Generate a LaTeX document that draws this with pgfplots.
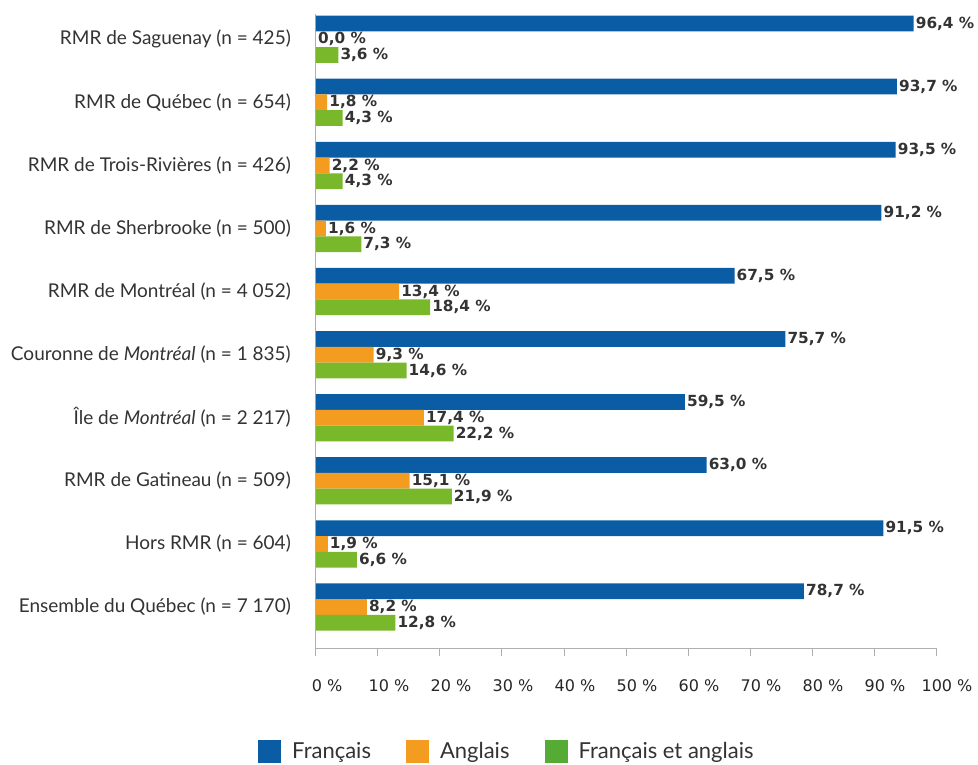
\documentclass[border=0pt]{standalone}
\usepackage{pgfplots}
\pgfplotsset{compat=1.18}
\usepackage{fontspec}
\setmainfont{Lato}
\newfontfamily\lblfont{DejaVu Sans}
\definecolor{cblue}{HTML}{0A5CA5}
\definecolor{corange}{HTML}{F39C1F}
\definecolor{cgreen}{HTML}{78B82A}
\definecolor{lgreen}{HTML}{55AB33}
\definecolor{axisgray}{HTML}{AFAFAF}
\definecolor{txt}{HTML}{333333}
\pgfplotstableread{
i fr en bi
0 96.4 0.0 3.6
1 93.7 1.8 4.3
2 93.5 2.2 4.3
3 91.2 1.6 7.3
4 67.5 13.4 18.4
5 75.7 9.3 14.6
6 59.5 17.4 22.2
7 63.0 15.1 21.9
8 91.5 1.9 6.6
9 78.7 8.2 12.8
}\datatable
\begin{document}
\begin{tikzpicture}[x=1pt,y=1pt]
\useasboundingbox (0,0) rectangle (978,764);
\begin{axis}[at={(316pt,116pt)}, anchor=south west, scale only axis,
 width=620pt, height=634pt,
 xmin=0, xmax=100, ymin=-0.40, ymax=9.65, y dir=reverse,
 xbar, bar width=0.25,
 axis x line*=bottom, axis y line*=left,
 axis line style={axisgray, line width=1pt, -},
 xtick={0,10,...,100}, xticklabels={0 \%,10 \%,20 \%,30 \%,40 \%,50 \%,60 \%,70 \%,80 \%,90 \%,100 \%},
 x tick style={axisgray, line width=1pt}, tick align=outside, major tick length=8pt,
 xticklabel style={font=\lblfont\fontsize{16}{16}\selectfont, text=black!85, yshift=-20pt, xshift=11pt},
 ytick={0,...,9}, y tick style={draw=none},
 yticklabels={RMR de Saguenay (n = 425), RMR de Québec (n = 654), RMR de Trois-Rivières (n = 426), RMR de Sherbrooke (n = 500), RMR de Montréal (n = 4 052), Couronne de \textit{Montréal} (n = 1 835), Île de \textit{Montréal} (n = 2 217), RMR de Gatineau (n = 509), Hors RMR (n = 604), Ensemble du Québec (n = 7 170)},
 yticklabel style={font=\fontsize{19}{19}\selectfont, text=txt, inner sep=0pt, xshift=-17pt},
 nodes near coords={\pgfmathprintnumber{\pgfplotspointmeta}~\%},
 nodes near coords style={font=\lblfont\bfseries\fontsize{15.3}{15.3}\selectfont, text=txt, inner sep=2pt,
   /pgf/number format/.cd, use comma, fixed, fixed zerofill, precision=1, assume math mode=true},
 legend style={at={(-0.0935,-0.163)}, anchor=west, draw=none, legend columns=-1, inner sep=0pt,
   font=\fontsize{22}{22}\selectfont, text=txt, nodes={inner sep=0pt},
   /tikz/every odd column/.append style={column sep=11pt},
   /tikz/every even column/.append style={column sep=35pt}},
 legend image code/.code={\fill[#1,draw=none] (0pt,-11.5pt) rectangle (23pt,11.5pt);},
 clip=false,
]
\addplot[fill=cblue, draw=none, bar shift=-0.25, forget plot] table[x=fr, y=i]{\datatable};
\addplot[fill=corange, draw=none, bar shift=0, forget plot] table[x=en, y=i]{\datatable};
\addplot[fill=cgreen, draw=none, bar shift=0.25, forget plot] table[x=bi, y=i]{\datatable};
\addlegendimage{fill=cblue}
\addlegendentry{Français}
\addlegendimage{fill=corange}
\addlegendentry{Anglais}
\addlegendimage{fill=lgreen}
\addlegendentry{Français et anglais}
\end{axis}
\end{tikzpicture}
\end{document}
